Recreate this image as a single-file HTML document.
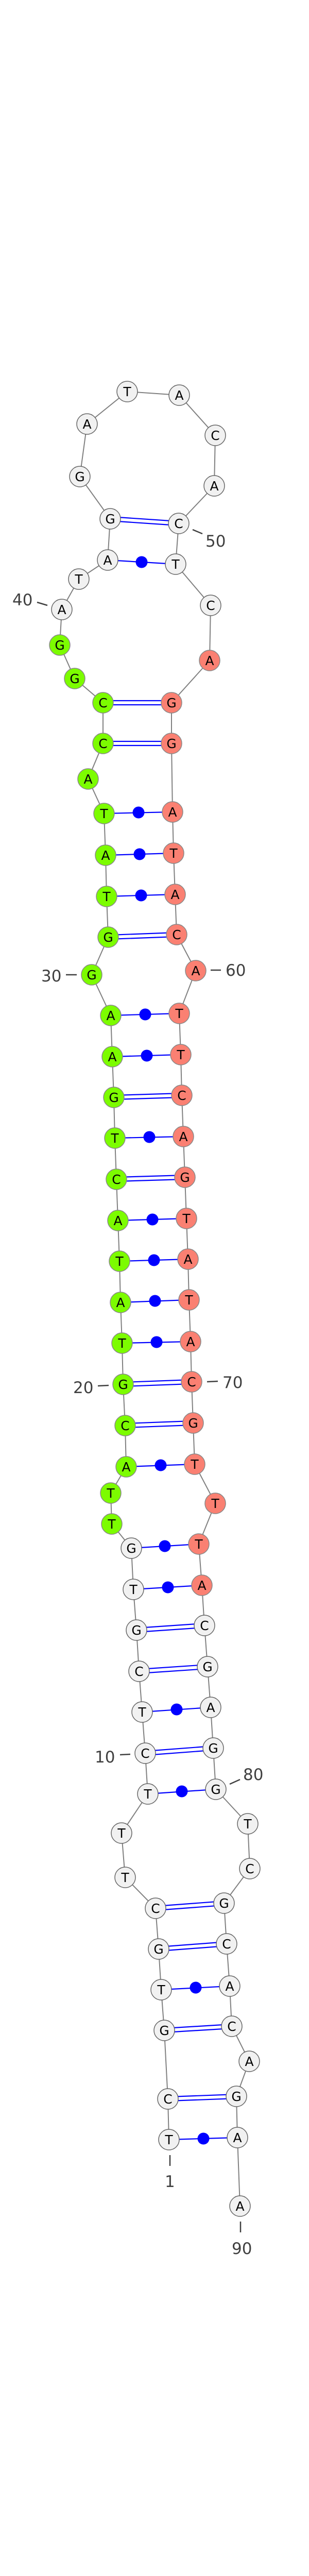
<!DOCTYPE html>
<html><head><meta charset="utf-8"><style>
html,body{margin:0;padding:0;background:#fff;width:600px;height:5061px;overflow:hidden;}
svg{display:block;vertical-align:top;}
.n{stroke:#666;stroke-width:1.5;}
.w{fill:#f1f1f1;}
.g{fill:#7cfc00;stroke:#888;}
.r{fill:#fa8072;stroke:#888;}
.t{font-family:"DejaVu Sans","Liberation Sans",sans-serif;font-size:25px;text-anchor:middle;fill:#000;}
.l{font-family:"DejaVu Sans","Liberation Sans",sans-serif;font-size:31px;fill:#404040;}
.k{stroke:#404040;stroke-width:2.5;}
.p{stroke:#0000ff;stroke-width:2.2;}
</style></head><body>
<svg width="600" height="5061" viewBox="0 0 600 5061" xmlns="http://www.w3.org/2000/svg">
<polyline fill="none" stroke="#808080" stroke-width="2" points="328,4153 326,4074 319,3941 313,3862 308,3783 302,3704 243,3644 236,3558 287,3482 282,3403 276,3323 270,3244 265,3164 259,3085 255,3005 217,2958 215,2898 245,2847 243,2767 239,2687 237,2607 234,2528 232,2448 229,2369 226,2289 223,2209 221,2130 218,2051 215,1971 178,1892 210,1819 207,1740 205,1660 202,1579 171,1512 200,1443 200,1364 145,1317 116,1252 120,1183 153,1124 209,1087 214,1007 155,925 169,823 247,760 348,767 418,845 416,943 347,1016 341,1095 409,1175 407,1282 333,1364 333,1443 335,1576 337,1656 340,1736 343,1814 380,1884 348,1967 351,2047 353,2126 356,2206 359,2285 362,2365 365,2444 367,2523 370,2604 372,2682 375,2762 378,2842 418,2918 386,2997 392,3077 397,3155 403,3235 409,3314 414,3393 419,3473 481,3540 485,3627 435,3694 440,3773 446,3855 450,3933 484,4001 459,4069 461,4149 466,4282"/>
<g class="p">
<line x1="328" y1="4153" x2="461" y2="4149"/>
<line x1="313" y1="3862" x2="446" y2="3855"/>
<line x1="287" y1="3482" x2="419" y2="3473"/>
<line x1="276" y1="3323" x2="409" y2="3314"/>
<line x1="259" y1="3085" x2="392" y2="3077"/>
<line x1="255" y1="3005" x2="386" y2="2997"/>
<line x1="245" y1="2847" x2="378" y2="2842"/>
<line x1="237" y1="2607" x2="370" y2="2604"/>
<line x1="234" y1="2528" x2="367" y2="2523"/>
<line x1="232" y1="2448" x2="365" y2="2444"/>
<line x1="229" y1="2369" x2="362" y2="2365"/>
<line x1="223" y1="2209" x2="356" y2="2206"/>
<line x1="218" y1="2051" x2="351" y2="2047"/>
<line x1="215" y1="1971" x2="348" y2="1967"/>
<line x1="207" y1="1740" x2="340" y2="1736"/>
<line x1="205" y1="1660" x2="337" y2="1656"/>
<line x1="202" y1="1579" x2="335" y2="1576"/>
<line x1="209" y1="1087" x2="341" y2="1095"/>
<line x1="326" y1="4070" x2="459" y2="4065"/><line x1="326" y1="4078" x2="459" y2="4073"/>
<line x1="319" y1="3937" x2="450" y2="3929"/><line x1="319" y1="3945" x2="450" y2="3937"/>
<line x1="308" y1="3779" x2="440" y2="3769"/><line x1="308" y1="3787" x2="440" y2="3777"/>
<line x1="302" y1="3700" x2="435" y2="3690"/><line x1="302" y1="3708" x2="435" y2="3698"/>
<line x1="282" y1="3399" x2="414" y2="3389"/><line x1="282" y1="3407" x2="414" y2="3397"/>
<line x1="270" y1="3240" x2="403" y2="3231"/><line x1="270" y1="3248" x2="403" y2="3239"/>
<line x1="265" y1="3160" x2="397" y2="3151"/><line x1="265" y1="3168" x2="397" y2="3159"/>
<line x1="243" y1="2763" x2="375" y2="2758"/><line x1="243" y1="2771" x2="375" y2="2766"/>
<line x1="239" y1="2683" x2="372" y2="2678"/><line x1="239" y1="2691" x2="372" y2="2686"/>
<line x1="226" y1="2285" x2="359" y2="2281"/><line x1="226" y1="2293" x2="359" y2="2289"/>
<line x1="221" y1="2126" x2="353" y2="2122"/><line x1="221" y1="2134" x2="353" y2="2130"/>
<line x1="210" y1="1815" x2="343" y2="1810"/><line x1="210" y1="1823" x2="343" y2="1818"/>
<line x1="200" y1="1439" x2="333" y2="1439"/><line x1="200" y1="1447" x2="333" y2="1447"/>
<line x1="200" y1="1360" x2="333" y2="1360"/><line x1="200" y1="1368" x2="333" y2="1368"/>
<line x1="214" y1="1003" x2="347" y2="1012"/><line x1="214" y1="1011" x2="347" y2="1020"/>
</g>
<g fill="#0000ff">
<circle cx="395" cy="4151" r="11.5"/><circle cx="380" cy="3858" r="11.5"/><circle cx="353" cy="3477" r="11.5"/>
<circle cx="343" cy="3318" r="11.5"/><circle cx="326" cy="3081" r="11.5"/><circle cx="320" cy="3001" r="11.5"/>
<circle cx="312" cy="2844" r="11.5"/><circle cx="304" cy="2605" r="11.5"/><circle cx="301" cy="2525" r="11.5"/>
<circle cx="299" cy="2446" r="11.5"/><circle cx="296" cy="2367" r="11.5"/><circle cx="290" cy="2207" r="11.5"/>
<circle cx="285" cy="2049" r="11.5"/><circle cx="282" cy="1969" r="11.5"/><circle cx="274" cy="1738" r="11.5"/>
<circle cx="271" cy="1658" r="11.5"/><circle cx="269" cy="1577" r="11.5"/><circle cx="275" cy="1091" r="11.5"/>
</g>
<g class="k">
<line x1="330" y1="4183" x2="330" y2="4204"/>
<line x1="467" y1="4312" x2="467" y2="4333"/>
<line x1="233" y1="3406" x2="253" y2="3405"/>
<line x1="446" y1="3463" x2="466" y2="3454"/>
<line x1="190" y1="2690" x2="211" y2="2689"/>
<line x1="402" y1="2682" x2="423" y2="2681"/>
<line x1="128" y1="1892" x2="149" y2="1892"/>
<line x1="409" y1="1883" x2="429" y2="1883"/>
<line x1="72" y1="1169" x2="92" y2="1175"/>
<line x1="374" y1="1028" x2="393" y2="1036"/>
</g>
<g class="l">
<text x="320" y="4245">1</text>
<text x="450" y="4375">90</text>
<text x="184" y="3421">10</text>
<text x="472" y="3455">80</text>
<text x="142" y="2704">20</text>
<text x="432" y="2694">70</text>
<text x="80" y="1905">30</text>
<text x="438" y="1894">60</text>
<text x="24" y="1175">40</text>
<text x="399" y="1061">50</text>
</g>
<g class="n">
<circle class="w" cx="328" cy="4153" r="20"/><circle class="w" cx="326" cy="4074" r="20"/><circle class="w" cx="319" cy="3941" r="20"/><circle class="w" cx="313" cy="3862" r="20"/><circle class="w" cx="308" cy="3783" r="20"/><circle class="w" cx="302" cy="3704" r="20"/><circle class="w" cx="243" cy="3644" r="20"/><circle class="w" cx="236" cy="3558" r="20"/><circle class="w" cx="287" cy="3482" r="20"/><circle class="w" cx="282" cy="3403" r="20"/><circle class="w" cx="276" cy="3323" r="20"/><circle class="w" cx="270" cy="3244" r="20"/><circle class="w" cx="265" cy="3164" r="20"/><circle class="w" cx="259" cy="3085" r="20"/><circle class="w" cx="255" cy="3005" r="20"/>
<circle class="g" cx="217" cy="2958" r="20"/><circle class="g" cx="215" cy="2898" r="20"/><circle class="g" cx="245" cy="2847" r="20"/><circle class="g" cx="243" cy="2767" r="20"/><circle class="g" cx="239" cy="2687" r="20"/><circle class="g" cx="237" cy="2607" r="20"/><circle class="g" cx="234" cy="2528" r="20"/><circle class="g" cx="232" cy="2448" r="20"/><circle class="g" cx="229" cy="2369" r="20"/><circle class="g" cx="226" cy="2289" r="20"/><circle class="g" cx="223" cy="2209" r="20"/><circle class="g" cx="221" cy="2130" r="20"/><circle class="g" cx="218" cy="2051" r="20"/><circle class="g" cx="215" cy="1971" r="20"/><circle class="g" cx="178" cy="1892" r="20"/><circle class="g" cx="210" cy="1819" r="20"/><circle class="g" cx="207" cy="1740" r="20"/><circle class="g" cx="205" cy="1660" r="20"/><circle class="g" cx="202" cy="1579" r="20"/><circle class="g" cx="171" cy="1512" r="20"/><circle class="g" cx="200" cy="1443" r="20"/><circle class="g" cx="200" cy="1364" r="20"/><circle class="g" cx="145" cy="1317" r="20"/><circle class="g" cx="116" cy="1252" r="20"/>
<circle class="w" cx="120" cy="1183" r="20"/><circle class="w" cx="153" cy="1124" r="20"/><circle class="w" cx="209" cy="1087" r="20"/><circle class="w" cx="214" cy="1007" r="20"/><circle class="w" cx="155" cy="925" r="20"/><circle class="w" cx="169" cy="823" r="20"/><circle class="w" cx="247" cy="760" r="20"/><circle class="w" cx="348" cy="767" r="20"/><circle class="w" cx="418" cy="845" r="20"/><circle class="w" cx="416" cy="943" r="20"/><circle class="w" cx="347" cy="1016" r="20"/><circle class="w" cx="341" cy="1095" r="20"/><circle class="w" cx="409" cy="1175" r="20"/>
<circle class="r" cx="407" cy="1282" r="20"/><circle class="r" cx="333" cy="1364" r="20"/><circle class="r" cx="333" cy="1443" r="20"/><circle class="r" cx="335" cy="1576" r="20"/><circle class="r" cx="337" cy="1656" r="20"/><circle class="r" cx="340" cy="1736" r="20"/><circle class="r" cx="343" cy="1814" r="20"/><circle class="r" cx="380" cy="1884" r="20"/><circle class="r" cx="348" cy="1967" r="20"/><circle class="r" cx="351" cy="2047" r="20"/><circle class="r" cx="353" cy="2126" r="20"/><circle class="r" cx="356" cy="2206" r="20"/><circle class="r" cx="359" cy="2285" r="20"/><circle class="r" cx="362" cy="2365" r="20"/><circle class="r" cx="365" cy="2444" r="20"/><circle class="r" cx="367" cy="2523" r="20"/><circle class="r" cx="370" cy="2604" r="20"/><circle class="r" cx="372" cy="2682" r="20"/><circle class="r" cx="375" cy="2762" r="20"/><circle class="r" cx="378" cy="2842" r="20"/><circle class="r" cx="418" cy="2918" r="20"/><circle class="r" cx="386" cy="2997" r="20"/><circle class="r" cx="392" cy="3077" r="20"/>
<circle class="w" cx="397" cy="3155" r="20"/><circle class="w" cx="403" cy="3235" r="20"/><circle class="w" cx="409" cy="3314" r="20"/><circle class="w" cx="414" cy="3393" r="20"/><circle class="w" cx="419" cy="3473" r="20"/><circle class="w" cx="481" cy="3540" r="20"/><circle class="w" cx="485" cy="3627" r="20"/><circle class="w" cx="435" cy="3694" r="20"/><circle class="w" cx="440" cy="3773" r="20"/><circle class="w" cx="446" cy="3855" r="20"/><circle class="w" cx="450" cy="3933" r="20"/><circle class="w" cx="484" cy="4001" r="20"/><circle class="w" cx="459" cy="4069" r="20"/><circle class="w" cx="461" cy="4149" r="20"/><circle class="w" cx="466" cy="4282" r="20"/>
</g>
<g class="t">
<text x="328" y="4162">T</text><text x="326" y="4083">C</text><text x="319" y="3950">G</text><text x="313" y="3871">T</text><text x="308" y="3792">G</text><text x="302" y="3713">C</text><text x="243" y="3653">T</text><text x="236" y="3567">T</text><text x="287" y="3491">T</text><text x="282" y="3412">C</text><text x="276" y="3332">T</text><text x="270" y="3253">C</text><text x="265" y="3173">G</text><text x="259" y="3094">T</text><text x="255" y="3014">G</text>
<text x="217" y="2967">T</text><text x="215" y="2907">T</text><text x="245" y="2856">A</text><text x="243" y="2776">C</text><text x="239" y="2696">G</text><text x="237" y="2616">T</text><text x="234" y="2537">A</text><text x="232" y="2457">T</text><text x="229" y="2378">A</text><text x="226" y="2298">C</text><text x="223" y="2218">T</text><text x="221" y="2139">G</text><text x="218" y="2060">A</text><text x="215" y="1980">A</text><text x="178" y="1901">G</text><text x="210" y="1828">G</text><text x="207" y="1749">T</text><text x="205" y="1669">A</text><text x="202" y="1588">T</text><text x="171" y="1521">A</text><text x="200" y="1452">C</text><text x="200" y="1373">C</text><text x="145" y="1326">G</text><text x="116" y="1261">G</text>
<text x="120" y="1192">A</text><text x="153" y="1133">T</text><text x="209" y="1096">A</text><text x="214" y="1016">G</text><text x="155" y="934">G</text><text x="169" y="832">A</text><text x="247" y="769">T</text><text x="348" y="776">A</text><text x="418" y="854">C</text><text x="416" y="952">A</text><text x="347" y="1025">C</text><text x="341" y="1104">T</text><text x="409" y="1184">C</text>
<text x="407" y="1291">A</text><text x="333" y="1373">G</text><text x="333" y="1452">G</text><text x="335" y="1585">A</text><text x="337" y="1665">T</text><text x="340" y="1745">A</text><text x="343" y="1823">C</text><text x="380" y="1893">A</text><text x="348" y="1976">T</text><text x="351" y="2056">T</text><text x="353" y="2135">C</text><text x="356" y="2215">A</text><text x="359" y="2294">G</text><text x="362" y="2374">T</text><text x="365" y="2453">A</text><text x="367" y="2532">T</text><text x="370" y="2613">A</text><text x="372" y="2691">C</text><text x="375" y="2771">G</text><text x="378" y="2851">T</text><text x="418" y="2927">T</text><text x="386" y="3006">T</text><text x="392" y="3086">A</text>
<text x="397" y="3164">C</text><text x="403" y="3244">G</text><text x="409" y="3323">A</text><text x="414" y="3402">G</text><text x="419" y="3482">G</text><text x="481" y="3549">T</text><text x="485" y="3636">C</text><text x="435" y="3703">G</text><text x="440" y="3782">C</text><text x="446" y="3864">A</text><text x="450" y="3942">C</text><text x="484" y="4010">A</text><text x="459" y="4078">G</text><text x="461" y="4158">A</text><text x="466" y="4291">A</text>
</g>
<text x="301" y="5054" font-family="DejaVu Sans, Liberation Sans, sans-serif" font-size="11.5" font-weight="bold" text-anchor="middle" fill="#000">dya_90_annot [-36.9]</text>
</svg>
</body></html>
